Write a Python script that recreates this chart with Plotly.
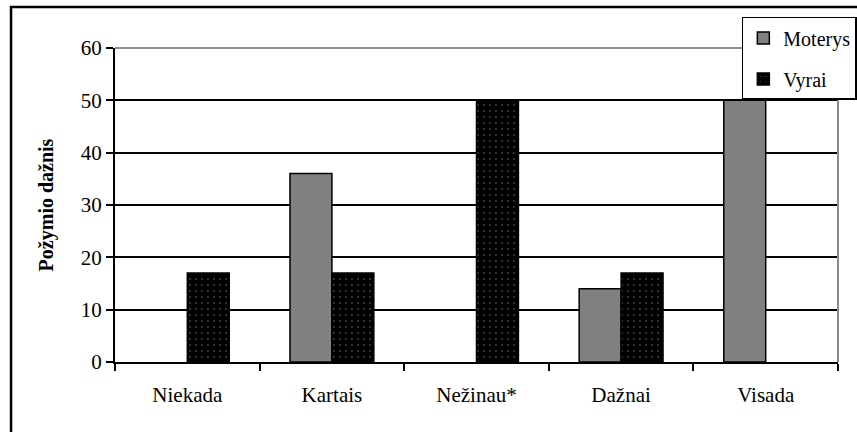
import plotly.graph_objects as go

kategorijos = ["Niekada", "Kartais", "Nežinau*", "Dažnai", "Visada"]
moterys = [0, 36, 0, 14, 50]
vyrai = [17, 17, 50, 17, 0]
y_ticks = [0, 10, 20, 30, 40, 50, 60]

SERIF = "Liberation Serif, Times New Roman, serif"


def be_nuliu(reiksmes):
    # nulinių stulpelių nepiešiam (kitaip lieka kontūro brūkšnys ant ašies)
    return [v if v != 0 else None for v in reiksmes]


fig = go.Figure()

fig.add_trace(go.Bar(
    x=kategorijos, y=be_nuliu(moterys), name="Moterys", legendgroup="m",
    marker=dict(color="#808080", line=dict(color="black", width=1.5)),
))

fig.add_trace(go.Bar(
    x=kategorijos, y=be_nuliu(vyrai), name="Vyrai", legendgroup="v",
    marker=dict(color="black", line=dict(color="black", width=1.5),
                pattern=dict(shape=".", fgcolor="#8a8a8a", bgcolor="black",
                             size=6, solidity=0.08)),
))

# rėmeliai: pilka viršutinė ir dešinė ploto kraštinė, juodas išorinis rėmas
shapes = [
    dict(type="line", xref="paper", yref="paper", x0=0, x1=1, y0=1, y1=1,
         line=dict(color="#8c8c8c", width=2), layer="above"),
    dict(type="line", xref="paper", yref="paper", x0=1, x1=1, y0=0, y1=1,
         line=dict(color="#8c8c8c", width=2), layer="above"),
    dict(type="rect", xref="paper", yref="paper", x0=-0.1438, x1=1.1,
         y0=-0.4, y1=1.1306, line=dict(color="black", width=2.5)),
]

fig.update_layout(
    width=857, height=432,
    margin=dict(l=115, r=19, t=48, b=70, autoexpand=False),
    paper_bgcolor="white", plot_bgcolor="white",
    font=dict(family=SERIF, color="black", size=20),
    barmode="group", bargap=0.42, bargroupgap=0,
    shapes=shapes,
    legend=dict(
        x=0.867, y=1.099, xanchor="left", yanchor="top",
        bordercolor="black", borderwidth=1.5, bgcolor="white",
        font=dict(family=SERIF, size=20),
        tracegroupgap=12, traceorder="grouped",
        itemwidth=30,
    ),
    showlegend=True,
)

fig.update_xaxes(
    showline=True, linecolor="black", linewidth=2,
    ticks="outside", tickson="boundaries", ticklen=7, tickwidth=2, tickcolor="black",
    ticklabelstandoff=13, tickfont=dict(family=SERIF, size=21),
    showgrid=False,
)

fig.update_yaxes(
    range=[0, 60], tickvals=y_ticks,
    showline=True, linecolor="black", linewidth=2,
    ticks="outside", ticklen=7, tickwidth=2, tickcolor="black",
    tickfont=dict(family=SERIF, size=21),
    showgrid=True, gridcolor="black", gridwidth=1.5,
    zeroline=False,
    title=dict(text="<b>Požymio dažnis</b>", font=dict(family=SERIF, size=20),
               standoff=22),
)

fig.write_html("out.html", config={"displayModeBar": False},
               post_script="document.body.style.margin='0';")
